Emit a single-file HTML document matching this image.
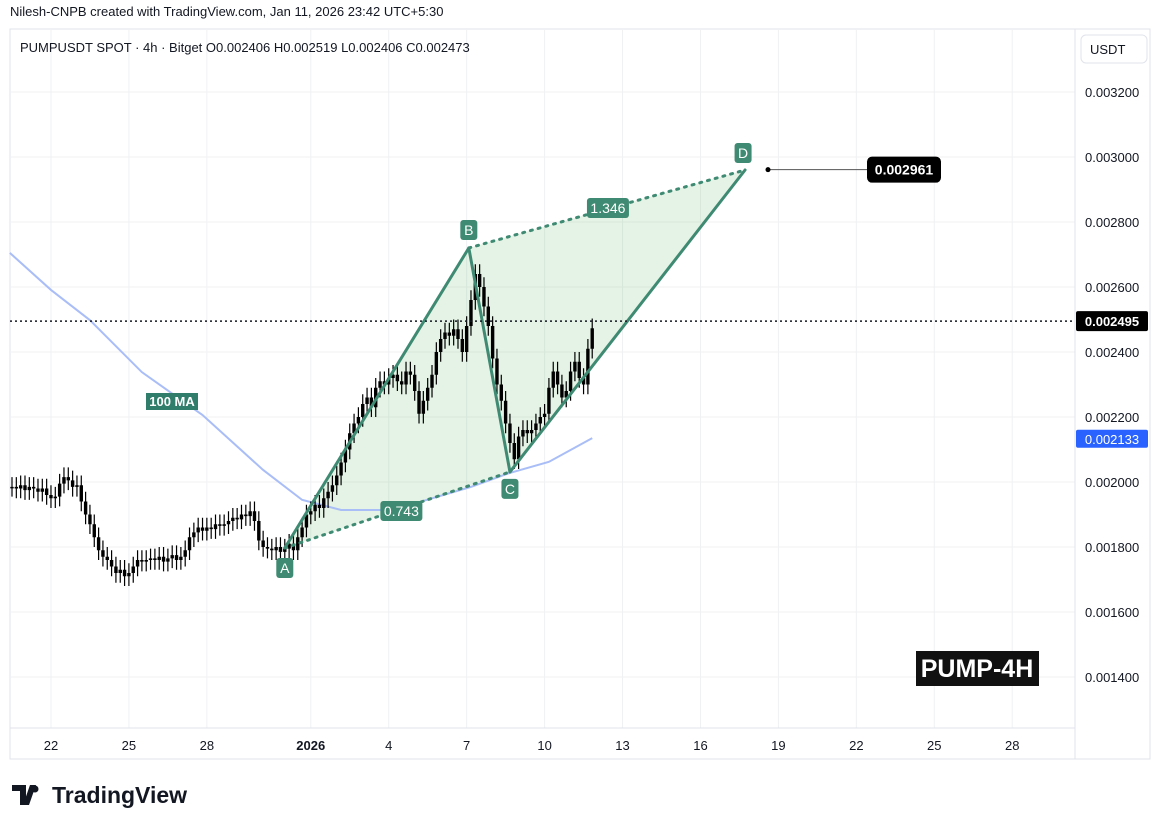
<!DOCTYPE html>
<html><head><meta charset="utf-8"><style>
body{margin:0;background:#fff;font-family:"Liberation Sans",sans-serif;}
#wrap{position:relative;width:1163px;height:828px;overflow:hidden;}
svg text{font-family:"Liberation Sans",sans-serif;}
</style></head><body>
<div id="wrap">
<svg id="c" width="1163" height="828"></svg>
</div>
<script>
// closes in micro-USDT (price * 1e6), 4h candles starting Dec 20 12:00
const closes=[1985,1980,1990,
1975,1985,1980,1970,1980,1960,
1950,1955,1995,2015,2005,1985,
1990,1940,1900,1870,1830,1790,
1770,1760,1740,1720,1730,1710,
1720,1740,1760,1755,1760,1765,
1760,1770,1755,1765,1775,1760,
1770,1790,1830,1845,1860,1850,
1860,1855,1870,1865,1870,1880,
1890,1885,1900,1895,1910,1880,
1820,1800,1795,1790,1800,1785,
1795,1810,1790,1830,1860,1900,
1910,1930,1920,1950,1970,1990,
2020,2060,2100,2150,2180,2200,
2240,2260,2230,2290,2310,2300,
2320,2330,2310,2300,2340,2330,
2280,2210,2250,2290,2330,2400,
2440,2460,2450,2470,2440,2400,
2480,2560,2640,2600,2540,2480,
2380,2300,2250,2180,2120,2070,
2140,2160,2150,2160,2180,2200,
2210,2290,2340,2300,2260,2280,
2340,2370,2320,2300,2410,2473];
const maIdx=[-0.5,9,18,30,44,58,67,76,85,94,106,115,124,134];
const maVals=[2705,2591,2498,2338,2206,2037,1945,1914,1914,1938,1985,2028,2062,2135];
const yTicks=[3200,3000,2800,2600,2400,2200,2000,1800,1600,1400];
const xTickLabels=["22","25","28","2026","4","7","10","13","16","19","22","25","28"];
const xTickIdx=[9,27,45,69,87,105,123,141,159,177,195,213,231];
const pattern={A:[63,1797],B:[105.5,2720],C:[115,2031],D:[169.3,2960]};
const fibLabels=["0.743","1.346"];
const lastPrice=2495, targetPrice=2961, maLast=2133;

const svg=document.getElementById('c');
const NS='http://www.w3.org/2000/svg';
const X=i=>12+i*4.33;
const Y=p=>482-(p-2000)/200*65;
function mk(t,a,parent){const e=document.createElementNS(NS,t);for(const k in a)e.setAttribute(k,a[k]);(parent||svg).appendChild(e);return e;}
const fmt=p=>'0.00'+String(Math.round(p)).padStart(4,'0');

let e=mk('rect',{x:10,y:29,width:1140,height:730,fill:'none',stroke:'#e0e3eb'});

yTicks.forEach(p=>{let g=mk('line',{x1:10,x2:1075,y1:Y(p),y2:Y(p),stroke:'#f0f1f3'});

let t=mk('text',{x:1085,y:Y(p)+5,'font-size':13,fill:'#131722'});t.textContent=fmt(p);
});
xTickIdx.forEach((ix,k)=>{let g=mk('line',{x1:X(ix),x2:X(ix),y1:29,y2:728,stroke:'#f0f1f3'});

let t=mk('text',{x:X(ix),y:750,'font-size':13,fill:'#131722','text-anchor':'middle','font-weight':xTickLabels[k]==='2026'?'bold':'normal'});t.textContent=xTickLabels[k];
});
e=mk('line',{x1:10,x2:1075,y1:728,y2:728,stroke:'#e0e3eb'});
e=mk('line',{x1:1075,x2:1075,y1:29,y2:759,stroke:'#e0e3eb'});

const P=k=>[X(pattern[k][0]),Y(pattern[k][1])];
const [A,B,C,D]=['A','B','C','D'].map(P);
e=mk('polygon',{points:[A,B,D,C].map(p=>p.join(',')).join(' '),fill:'rgba(76,175,80,0.15)'});


let d='';maIdx.forEach((ix,k)=>{d+=(k?'L':'M')+X(ix)+','+Y(maVals[k]);});
e=mk('path',{d:d,fill:'none',stroke:'#a9bdf7','stroke-width':2});


let prev=closes[0];
closes.forEach((c,i)=>{const o=prev;prev=c;const x=X(i);
const hi=Math.max(o,c)+30, lo=Math.min(o,c)-30;
let w=mk('line',{x1:x,x2:x,y1:Y(hi),y2:Y(lo),stroke:'#000','stroke-width':1.2});

const t=Y(Math.max(o,c)),b=Y(Math.min(o,c));
let r=mk('rect',{x:x-1.7,y:t,width:3.4,height:Math.max(1.5,b-t),fill:'#000'});
});

function ln(p,q,dash,name){let l=mk('line',{x1:p[0],y1:p[1],x2:q[0],y2:q[1],stroke:'#3f8a72','stroke-width':3,'stroke-dasharray':dash?'2 6':'none','stroke-linecap':'round'});
}
ln(A,B,false,'leg-ab');ln(B,C,false,'leg-bc');ln(C,D,false,'leg-cd');ln(A,C,true,'leg-ac-dotted');ln(B,D,true,'leg-bd-dotted');
function lab(txt,cx,cy,w,h,name,fs){let g=mk('g',{});
mk('rect',{x:cx-w/2,y:cy-h/2,width:w,height:h,rx:3,fill:'#3f8a72'},g);
let t=mk('text',{x:cx,y:cy+5,'font-size':fs||14,fill:'#fff','text-anchor':'middle'},g);t.textContent=txt;}
lab('A',A[0],A[1]+20,17,20,'point-a-label');
lab('B',B[0],B[1]-18,17,20,'point-b-label');
lab('C',C[0],C[1]+17,17,20,'point-c-label');
lab('D',D[0]-2,D[1]-17,17,20,'point-d-label');
lab(fibLabels[0],(A[0]+C[0])/2+4,(A[1]+C[1])/2+1,42,20,'ratio-ac-label');
lab(fibLabels[1],(B[0]+D[0])/2+1,(B[1]+D[1])/2-1,42,20,'ratio-bd-label');
e=mk('g',{});
mk('rect',{x:146,y:393,width:52,height:17,fill:'#2f7d6a'},e);
let t=mk('text',{x:172,y:406,'font-size':13,'font-weight':'bold',fill:'#fff','text-anchor':'middle'},e);t.textContent='100 MA';

e=mk('line',{x1:10,x2:1075,y1:Y(lastPrice),y2:Y(lastPrice),stroke:'#131722','stroke-width':1.5,'stroke-dasharray':'2 3'});

e=mk('g',{});
mk('rect',{x:1076,y:Y(lastPrice)-10,width:72,height:20,rx:2,fill:'#000'},e);
t=mk('text',{x:1112,y:Y(lastPrice)+5,'font-size':13,'font-weight':'bold',fill:'#fff','text-anchor':'middle'},e);t.textContent=fmt(lastPrice);
e=mk('g',{});
mk('rect',{x:1076,y:Y(maLast)-9,width:72,height:18,rx:2,fill:'#2962ff'},e);
t=mk('text',{x:1112,y:Y(maLast)+5,'font-size':13,fill:'#fff','text-anchor':'middle'},e);t.textContent=fmt(maLast);
e=mk('g',{});
mk('line',{x1:768,x2:868,y1:Y(targetPrice),y2:Y(targetPrice),stroke:'#555'},e);
mk('circle',{cx:768,cy:Y(targetPrice),r:2.5,fill:'#000'},e);
mk('rect',{x:867,y:Y(targetPrice)-13,width:74,height:26,rx:5,fill:'#000'},e);
t=mk('text',{x:904,y:Y(targetPrice)+5,'font-size':14,'font-weight':'bold',fill:'#fff','text-anchor':'middle'},e);t.textContent=fmt(targetPrice);
e=mk('g',{});
mk('rect',{x:916,y:651,width:123,height:35,fill:'#111'},e);
t=mk('text',{x:977,y:677,'font-size':25,'font-weight':'bold',fill:'#fff','text-anchor':'middle'},e);t.textContent='PUMP-4H';
e=mk('g',{});
mk('rect',{x:1081,y:35,width:66,height:28,rx:5,fill:'#fff',stroke:'#e0e3eb'},e);
t=mk('text',{x:1090,y:54,'font-size':13,fill:'#131722'},e);t.textContent='USDT';
t=mk('text',{x:10,y:16,'font-size':13,fill:'#131722'});t.textContent='Nilesh-CNPB created with TradingView.com, Jan 11, 2026 23:42 UTC+5:30';

t=mk('text',{x:20,y:52,'font-size':13,fill:'#131722'});t.textContent='PUMPUSDT SPOT · 4h · Bitget  O0.002406  H0.002519  L0.002406  C0.002473';

e=mk('g',{});
mk('path',{d:'M12 785h14v20h-6v-14h-8z M30 785h6l-7 20h-6z',fill:'#131722'},e);
mk('circle',{cx:35,cy:789,r:3.5,fill:'#131722'},e);
t=mk('text',{x:52,y:803,'font-size':23,'font-weight':'bold',fill:'#131722'},e);t.textContent='TradingView';
</script>
</body></html>
